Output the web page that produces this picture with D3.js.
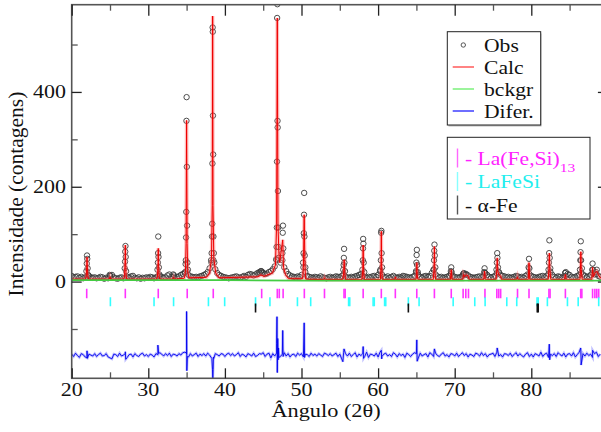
<!DOCTYPE html>
<html>
<head>
<meta charset="utf-8">
<script src="https://cdn.jsdelivr.net/npm/d3@7"></script>
<style>
  body { margin: 0; background: #fff; }
  svg text { font-family: 'Liberation Serif', 'Times New Roman', 'DejaVu Serif', serif; }
</style>
</head>
<body>
<svg id="chart" width="601" height="432"></svg>
<script>
// observed background counts, one value every 0.25 deg starting at 20
const gridStart = 20, gridStep = 0.25;
const obsBase = [
  12,9,10,11,8,10,7,9,10,12,9,8,9,7,8,10,9,6,8,7,
  12,14,9,7,6,8,9,7,8,10,9,11,12,8,7,9,6,8,7,9,
  8,10,9,7,9,11,12,10,8,9,13,15,10,9,8,10,11,14,16,18,
  22,14,11,10,9,10,9,11,12,14,16,20,28,40,45,26,18,14,12,10,
  9,8,7,8,9,10,11,9,8,10,12,10,14,16,15,13,15,18,20,22,
  18,16,17,20,22,26,32,45,50,40,45,30,22,16,13,11,10,9,11,10,
  14,30,20,12,10,9,8,10,9,8,11,9,8,7,9,10,8,9,11,10,
  9,12,15,10,9,8,10,9,11,12,14,16,12,9,8,10,9,11,12,10,
  14,22,15,10,9,11,8,10,12,9,8,10,9,12,11,10,9,8,10,12,
  20,14,10,9,11,12,10,12,18,25,15,11,9,10,8,9,10,12,16,12,
  10,9,8,10,12,14,16,13,10,9,8,9,10,11,9,12,18,14,10,9,
  10,12,18,20,14,12,11,9,10,8,9,10,12,11,9,10,8,12,15,16,
  12,10,9,8,10,11,12,9,12,16,20,14,10,9,11,10,8,9,12,16,
  14,10,9,10,12,14,18,15,12,10,11,14,18,15,16,12,10
];

// observed points on the peaks [2theta, counts]
const obsPeaks = [
  [21.92,22],[21.97,38],[22.0,55],[22.03,48],[22.08,28],[22.15,14],
  [24.95,14],[25.05,12],
  [26.92,28],[26.96,42],[26.99,63],[27.02,75],[27.05,52],[27.1,22],
  [31.2,25],[31.25,40],[31.28,60],[31.3,95],[31.33,52],[31.38,30],[31.45,15],
  [33.25,15],[33.35,13],
  [34.8,20],[34.87,37],[34.9,45],[34.93,93],[34.96,147],[34.98,339],[35.0,389],[35.03,242],[35.06,118],[35.1,40],[35.17,25],
  [38.2,45],[38.27,60],[38.32,95],[38.35,122],[38.37,249],[38.4,536],[38.42,527],[38.44,350],[38.47,268],[38.5,95],[38.55,60],[38.62,40],
  [44.5,18],[44.7,22],[44.9,20],
  [46.7,47],[46.75,73],[46.78,114],[46.8,253],[46.82,556],[46.85,585],[46.87,339],[46.89,325],[46.92,191],[46.96,114],[47.0,73],
  [47.5,60],[47.55,103],[47.58,118],[47.62,70],
  [50.2,40],[50.27,60],[50.3,102],[50.33,141],[50.35,187],[50.38,95],[50.42,55],[50.5,30],
  [55.45,25],[55.5,35],[55.53,50],[55.56,69],[55.6,40],[55.68,22],
  [57.95,25],[58.0,45],[58.03,70],[58.05,90],[58.08,80],[58.12,40],[58.2,20],
  [60.3,25],[60.36,45],[60.4,103],[60.43,107],[60.46,60],[60.52,30],
  [64.95,22],[65.0,40],[65.03,56],[65.06,67],[65.1,35],[65.18,20],
  [67.25,25],[67.3,45],[67.33,65],[67.36,78],[67.4,55],[67.47,30],
  [69.5,22],[69.55,30],[69.6,20],
  [71.1,16],[71.2,18],[71.4,15],
  [73.85,20],[73.9,28],[73.97,18],
  [75.45,25],[75.5,40],[75.55,60],[75.58,50],[75.65,30],[75.75,20],
  [79.65,30],[79.7,48],[79.75,28],
  [82.25,25],[82.3,40],[82.33,60],[82.36,87],[82.4,50],[82.48,28],
  [84.4,18],[84.5,20],
  [86.35,25],[86.4,45],[86.43,62],[86.46,85],[86.5,45],[86.6,28],
  [87.95,25],[88.0,38],[88.05,25],
  [88.45,20],[88.55,25]
];

// calculated profile [2theta, counts]
const calcPts = [
  [20,5],[21.8,5],[21.9,12],[21.97,35],[22.0,52],[22.03,35],[22.1,12],[22.2,5],
  [24.9,5],[25.0,10],[25.1,5],
  [26.8,5],[26.9,12],[26.97,45],[27.0,77],[27.03,45],[27.1,12],[27.2,5],
  [31.1,5],[31.2,12],[31.27,40],[31.3,70],[31.33,40],[31.4,12],[31.5,5],
  [33.2,5],[33.3,9],[33.4,5],
  [34.7,7],[34.85,20],[34.93,80],[35.0,340],[35.07,80],[35.15,20],[35.3,8],
  [37.6,9],[38.0,18],[38.25,50],[38.35,160],[38.4,560],[38.45,160],[38.55,50],[38.8,18],[39.2,8],
  [44.3,10],[44.7,14],[45.1,11],
  [46.2,18],[46.6,35],[46.75,120],[46.84,556],[46.93,120],[47.05,60],[47.15,40],[47.55,88],[47.65,30],[47.9,15],[48.3,6],
  [50.15,6],[50.25,30],[50.35,141],[50.45,30],[50.55,5],
  [52.9,4],[53.0,8],[53.1,4],
  [55.4,4],[55.5,18],[55.57,46],[55.65,18],[55.75,4],
  [57.9,4],[58.0,25],[58.05,77],[58.1,25],[58.2,4],
  [60.3,4],[60.38,30],[60.42,106],[60.47,30],[60.55,4],
  [62.2,4],[62.27,10],[62.35,4],
  [64.95,4],[65.02,15],[65.06,40],[65.1,15],[65.2,4],
  [67.2,4],[67.3,25],[67.35,74],[67.4,25],[67.5,4],
  [69.45,4],[69.55,25],[69.65,4],
  [71.05,4],[71.15,15],[71.3,10],[71.5,14],[71.75,12],[71.9,4],
  [73.8,4],[73.9,22],[74.0,4],
  [75.4,4],[75.5,25],[75.55,50],[75.62,22],[75.75,14],[76.0,12],[76.1,4],
  [78.1,4],[78.2,10],[78.3,4],
  [79.6,4],[79.7,40],[79.8,4],
  [82.2,4],[82.3,25],[82.35,60],[82.42,25],[82.55,4],
  [84.35,4],[84.45,15],[84.55,4],
  [86.35,4],[86.42,25],[86.47,63],[86.52,25],[86.65,4],
  [87.9,4],[88.0,30],[88.1,10],[88.3,18],[88.55,22],[88.75,15],[89,8],[90,5]
];

const bckgrPts = [[20,3],[30,3],[40,3],[50,2],[60,2],[70,2],[80,2],[90,2]];

// difference curve: offset plus residual every 0.25 deg, plus residual spikes at peaks
const diffOffset = -155;
const diffNoise = [
  2,-3,4,-1,-5,3,1,-4,-6,2,0,-2,3,-3,1,4,-2,-1,3,-4,
  -6,-8,2,1,-3,4,-2,0,3,-5,1,2,-4,3,-1,-3,2,4,-2,1,
  -3,2,0,-4,3,1,5,2,-2,3,-1,4,-3,2,1,-2,3,0,5,6,
  2,-4,3,-2,1,4,-3,2,-1,3,-2,4,0,-6,-4,3,1,-2,3,2,
  -3,2,4,-1,3,-2,1,5,-3,2,0,-4,3,1,-2,4,-3,-1,3,2,
  5,-3,2,4,-6,3,-2,4,1,-3,2,5,-2,3,-4,1,2,-3,4,0,
  3,-4,2,1,-3,4,-1,2,-2,3,0,-3,4,2,-1,3,-2,1,4,-3,
  2,-8,5,3,-2,4,-3,1,5,-4,2,-1,3,-3,6,-5,2,1,-2,4,
  -4,6,-3,2,4,-2,1,-3,5,2,-4,3,-1,2,-5,4,1,-3,2,5,
  3,-6,4,-2,1,3,-4,5,2,-3,4,-1,-3,2,5,-2,1,-4,3,2,
  -2,4,-3,1,5,-1,3,-4,2,0,-3,4,2,-2,5,-1,3,-4,1,2,
  4,-3,6,-2,1,-4,3,2,-1,4,-3,1,5,-2,3,-1,-4,2,5,-3,
  2,-4,3,1,-2,6,-3,2,4,-5,2,-1,3,-3,5,1,-2,4,-4,2,
  3,-2,5,-4,1,6,-6,3,-2,4,-1,2,-5,3,6,-3,2
];
const diffSpikes = [
  [22.0,-146],[22.05,-162],
  [27.0,-148],[27.05,-164],
  [31.25,-134],[31.35,-152],
  [34.95,-150],[35.0,-63],[35.03,-188],[35.1,-158],
  [38.3,-162],[38.38,-185],[38.42,-204],[38.47,-185],[38.55,-162],
  [46.75,-130],[46.8,-74],[46.84,-192],[46.9,-120],[46.95,-165],[47.0,-140],[47.05,-160],
  [47.55,-103],[47.6,-158],
  [50.35,-87],[50.4,-160],
  [55.4,-169],[55.55,-142],
  [58.05,-137],[58.1,-162],
  [60.42,-145],[60.47,-163],
  [65.05,-123],[65.1,-168],
  [67.35,-142],[75.55,-140],
  [82.35,-132],[82.4,-165],
  [86.45,-140],[86.5,-176],
  [88.0,-145]
];

// Bragg reflection positions
const phaseLaFeSi13 = [21.96,27.0,31.3,35.08,38.48,44.8,46.84,47.1,47.6,50.37,53.0,55.55,55.7,58.05,60.42,62.25,
  65.05,67.35,69.55,71.1,71.45,71.8,73.95,75.5,75.75,76.0,78.2,79.7,82.3,82.45,84.45,86.45,86.6,88.0,88.3,88.55,88.8];
const phaseLaFeSi = [25.05,30.75,33.3,37.85,39.97,44.0,45.88,49.47,51.2,56.15,56.3,59.35,59.5,60.85,61.0,63.95,65.35,
  69.8,72.62,73.97,76.8,78.1,80.75,80.9,82.1,84.72,86.12,88.8];
const phaseFe = [44.0,63.95,80.78,80.9];

const xMajor = [20,30,40,50,60,70,80,90];
const xMinor = [25,35,45,55,65,75,85];
const yMajor = [0,200,400];
const yMinor = [-100,100,300,500];

const svg = d3.select('#chart');
const pLeft = 71.7, pRight = 607.9, pTop = 4.7, pBottom = 378.3;

const x = d3.scaleLinear().domain([20, 90]).range([pLeft, pRight]);
const y = d3.scaleLinear().domain([-204, 584]).range([pBottom, pTop]);

svg.append('rect').attr('width', 601).attr('height', 432).attr('fill', '#fff');

svg.append('clipPath').attr('id', 'clip')
  .append('rect').attr('x', pLeft).attr('y', pTop).attr('width', pRight - pLeft).attr('height', pBottom - pTop);

const plot = svg.append('g').attr('clip-path', 'url(#clip)');

// observed circles
const obsAll = obsBase.map((v, i) => [gridStart + i * gridStep, v]).concat(obsPeaks);
plot.append('g').selectAll('circle')
  .data(obsAll)
  .enter().append('circle')
  .attr('cx', d => x(d[0]))
  .attr('cy', d => y(d[1]))
  .attr('r', 2.7)
  .attr('fill', 'none')
  .attr('stroke', '#3a3a3a')
  .attr('stroke-width', 0.9);

const line = d3.line().x(d => x(d[0])).y(d => y(d[1]));

// calc
plot.append('path').datum(calcPts).attr('d', line)
  .attr('fill', 'none').attr('stroke', '#ff7070').attr('stroke-width', 3.5).attr('stroke-opacity', 0.45);
plot.append('path').datum(calcPts).attr('d', line)
  .attr('fill', 'none').attr('stroke', '#ee0000').attr('stroke-width', 1);

// background
plot.append('path').datum(bckgrPts).attr('d', line)
  .attr('fill', 'none').attr('stroke', '#44cc44').attr('stroke-width', 1.6);

// difference
const diffAll = diffNoise.map((v, i) => [gridStart + i * gridStep, diffOffset + v])
  .concat(diffSpikes)
  .sort((a, b) => a[0] - b[0]);
plot.append('path').datum(diffAll).attr('d', line)
  .attr('fill', 'none').attr('stroke', '#7070ff').attr('stroke-width', 2.6).attr('stroke-opacity', 0.45);
plot.append('path').datum(diffAll).attr('d', line)
  .attr('fill', 'none').attr('stroke', '#0000ee').attr('stroke-width', 0.9);

// Bragg ticks
function bragg(data, y1, y2, color) {
  plot.append('g').selectAll('line')
    .data(data)
    .enter().append('line')
    .attr('x1', d => x(d)).attr('x2', d => x(d))
    .attr('y1', y(y1)).attr('y2', y(y2))
    .attr('stroke', color).attr('stroke-width', 1.6);
}
bragg(phaseLaFeSi13, -15, -35, '#ff33ff');
bragg(phaseLaFeSi, -33, -52, '#33ffff');
bragg(phaseFe, -46, -65, '#111');

// frame
svg.append('rect')
  .attr('x', pLeft).attr('y', pTop).attr('width', pRight - pLeft).attr('height', pBottom - pTop)
  .attr('fill', 'none').attr('stroke', '#555').attr('stroke-width', 1.6);

// axes ticks (inward)
function ticks(axis, tr, color) {
  const g = svg.append('g').attr('transform', tr).call(axis);
  g.select('.domain').remove();
  g.selectAll('text').remove();
  g.selectAll('line').attr('stroke', color).attr('stroke-width', 1.3);
}
ticks(d3.axisBottom(x).tickValues(xMajor).tickSize(-10), `translate(0,${pBottom})`, '#222');
ticks(d3.axisBottom(x).tickValues(xMinor).tickSize(-6), `translate(0,${pBottom})`, '#555');
ticks(d3.axisTop(x).tickValues(xMajor).tickSize(-11), `translate(0,${pTop})`, '#222');
ticks(d3.axisTop(x).tickValues(xMinor).tickSize(-6), `translate(0,${pTop})`, '#555');
ticks(d3.axisLeft(y).tickValues(yMajor).tickSize(-10), `translate(${pLeft},0)`, '#222');
ticks(d3.axisLeft(y).tickValues(yMinor).tickSize(-6), `translate(${pLeft},0)`, '#555');
ticks(d3.axisRight(y).tickValues(yMajor).tickSize(-10), `translate(${pRight},0)`, '#222');
ticks(d3.axisRight(y).tickValues(yMinor).tickSize(-6), `translate(${pRight},0)`, '#555');

// tick labels (the reference type is wider than Times, so stretch it)
svg.append('g').selectAll('text')
  .data(xMajor.filter(d => d < 90))
  .enter().append('text')
  .attr('transform', d => `translate(${x(d)},396) scale(1.22,1)`)
  .attr('text-anchor', 'middle')
  .attr('font-size', 18)
  .attr('fill', '#111')
  .text(d => d);

svg.append('g').selectAll('text')
  .data(yMajor)
  .enter().append('text')
  .attr('transform', d => `translate(66,${y(d) + 6}) scale(1.22,1)`)
  .attr('text-anchor', 'end')
  .attr('font-size', 18)
  .attr('fill', '#111')
  .text(d => d);

// axis titles
svg.append('text')
  .attr('transform', 'translate(326,417) scale(1.24,1)')
  .attr('text-anchor', 'middle')
  .attr('font-size', 18)
  .attr('fill', '#111')
  .text('Ângulo (2θ)');

svg.append('text')
  .attr('transform', 'translate(23,194) rotate(-90)')
  .attr('text-anchor', 'middle')
  .attr('font-size', 21.5)
  .attr('fill', '#111')
  .text('Intensidade (contagens)');

// legend 1
const lg1 = svg.append('g');
lg1.append('rect').attr('x', 448.5).attr('y', 33.5).attr('width', 93).attr('height', 93).attr('fill', '#bbb');
lg1.append('rect').attr('x', 447.3).attr('y', 31.7).attr('width', 93.4).attr('height', 93.3)
  .attr('fill', '#fff').attr('stroke', '#222').attr('stroke-width', 1);
const items1 = [
  { name: 'Obs', color: '#444', kind: 'circle' },
  { name: 'Calc', color: '#ff4040', kind: 'line' },
  { name: 'bckgr', color: '#66ee66', kind: 'line' },
  { name: 'Difer.', color: '#2020ff', kind: 'line' }
];
items1.forEach((it, i) => {
  const cy = 45 + i * 22;
  if (it.kind === 'circle') {
    lg1.append('circle').attr('cx', 463.3).attr('cy', cy).attr('r', 2.2)
      .attr('fill', 'none').attr('stroke', it.color).attr('stroke-width', 0.9);
  } else {
    lg1.append('line').attr('x1', 452.7).attr('x2', 474).attr('y1', cy).attr('y2', cy)
      .attr('stroke', it.color).attr('stroke-width', 1.3);
  }
  lg1.append('text')
    .attr('transform', `translate(484,${cy + 6.5}) scale(1.2,1)`)
    .attr('font-size', 18).attr('fill', '#111')
    .text(it.name);
});

// legend 2
const lg2 = svg.append('g');
lg2.append('rect').attr('x', 447.3).attr('y', 137.3).attr('width', 142.7).attr('height', 81.7)
  .attr('fill', '#fff').attr('stroke', '#222').attr('stroke-width', 1);
const items2 = [
  { name: 'La(Fe,Si)', sub: '13', color: '#ff22ff', bar: '#ff66ff' },
  { name: 'LaFeSi', sub: '', color: '#22eeee', bar: '#88ffff' },
  { name: 'α-Fe', sub: '', color: '#111', bar: '#555' }
];
items2.forEach((it, i) => {
  const cy = 158 + i * 23.5;
  lg2.append('line').attr('x1', 457.5).attr('x2', 457.5).attr('y1', cy - 9.5).attr('y2', cy + 9.5)
    .attr('stroke', it.bar).attr('stroke-width', 1.4);
  const t = lg2.append('text')
    .attr('transform', `translate(465,${cy + 6.5}) scale(1.2,1)`)
    .attr('font-size', 18).attr('fill', it.color);
  t.append('tspan').text('- ' + it.name);
  if (it.sub) t.append('tspan').attr('font-size', 13).attr('dy', 7).text(it.sub);
});
</script>
</body>
</html>
